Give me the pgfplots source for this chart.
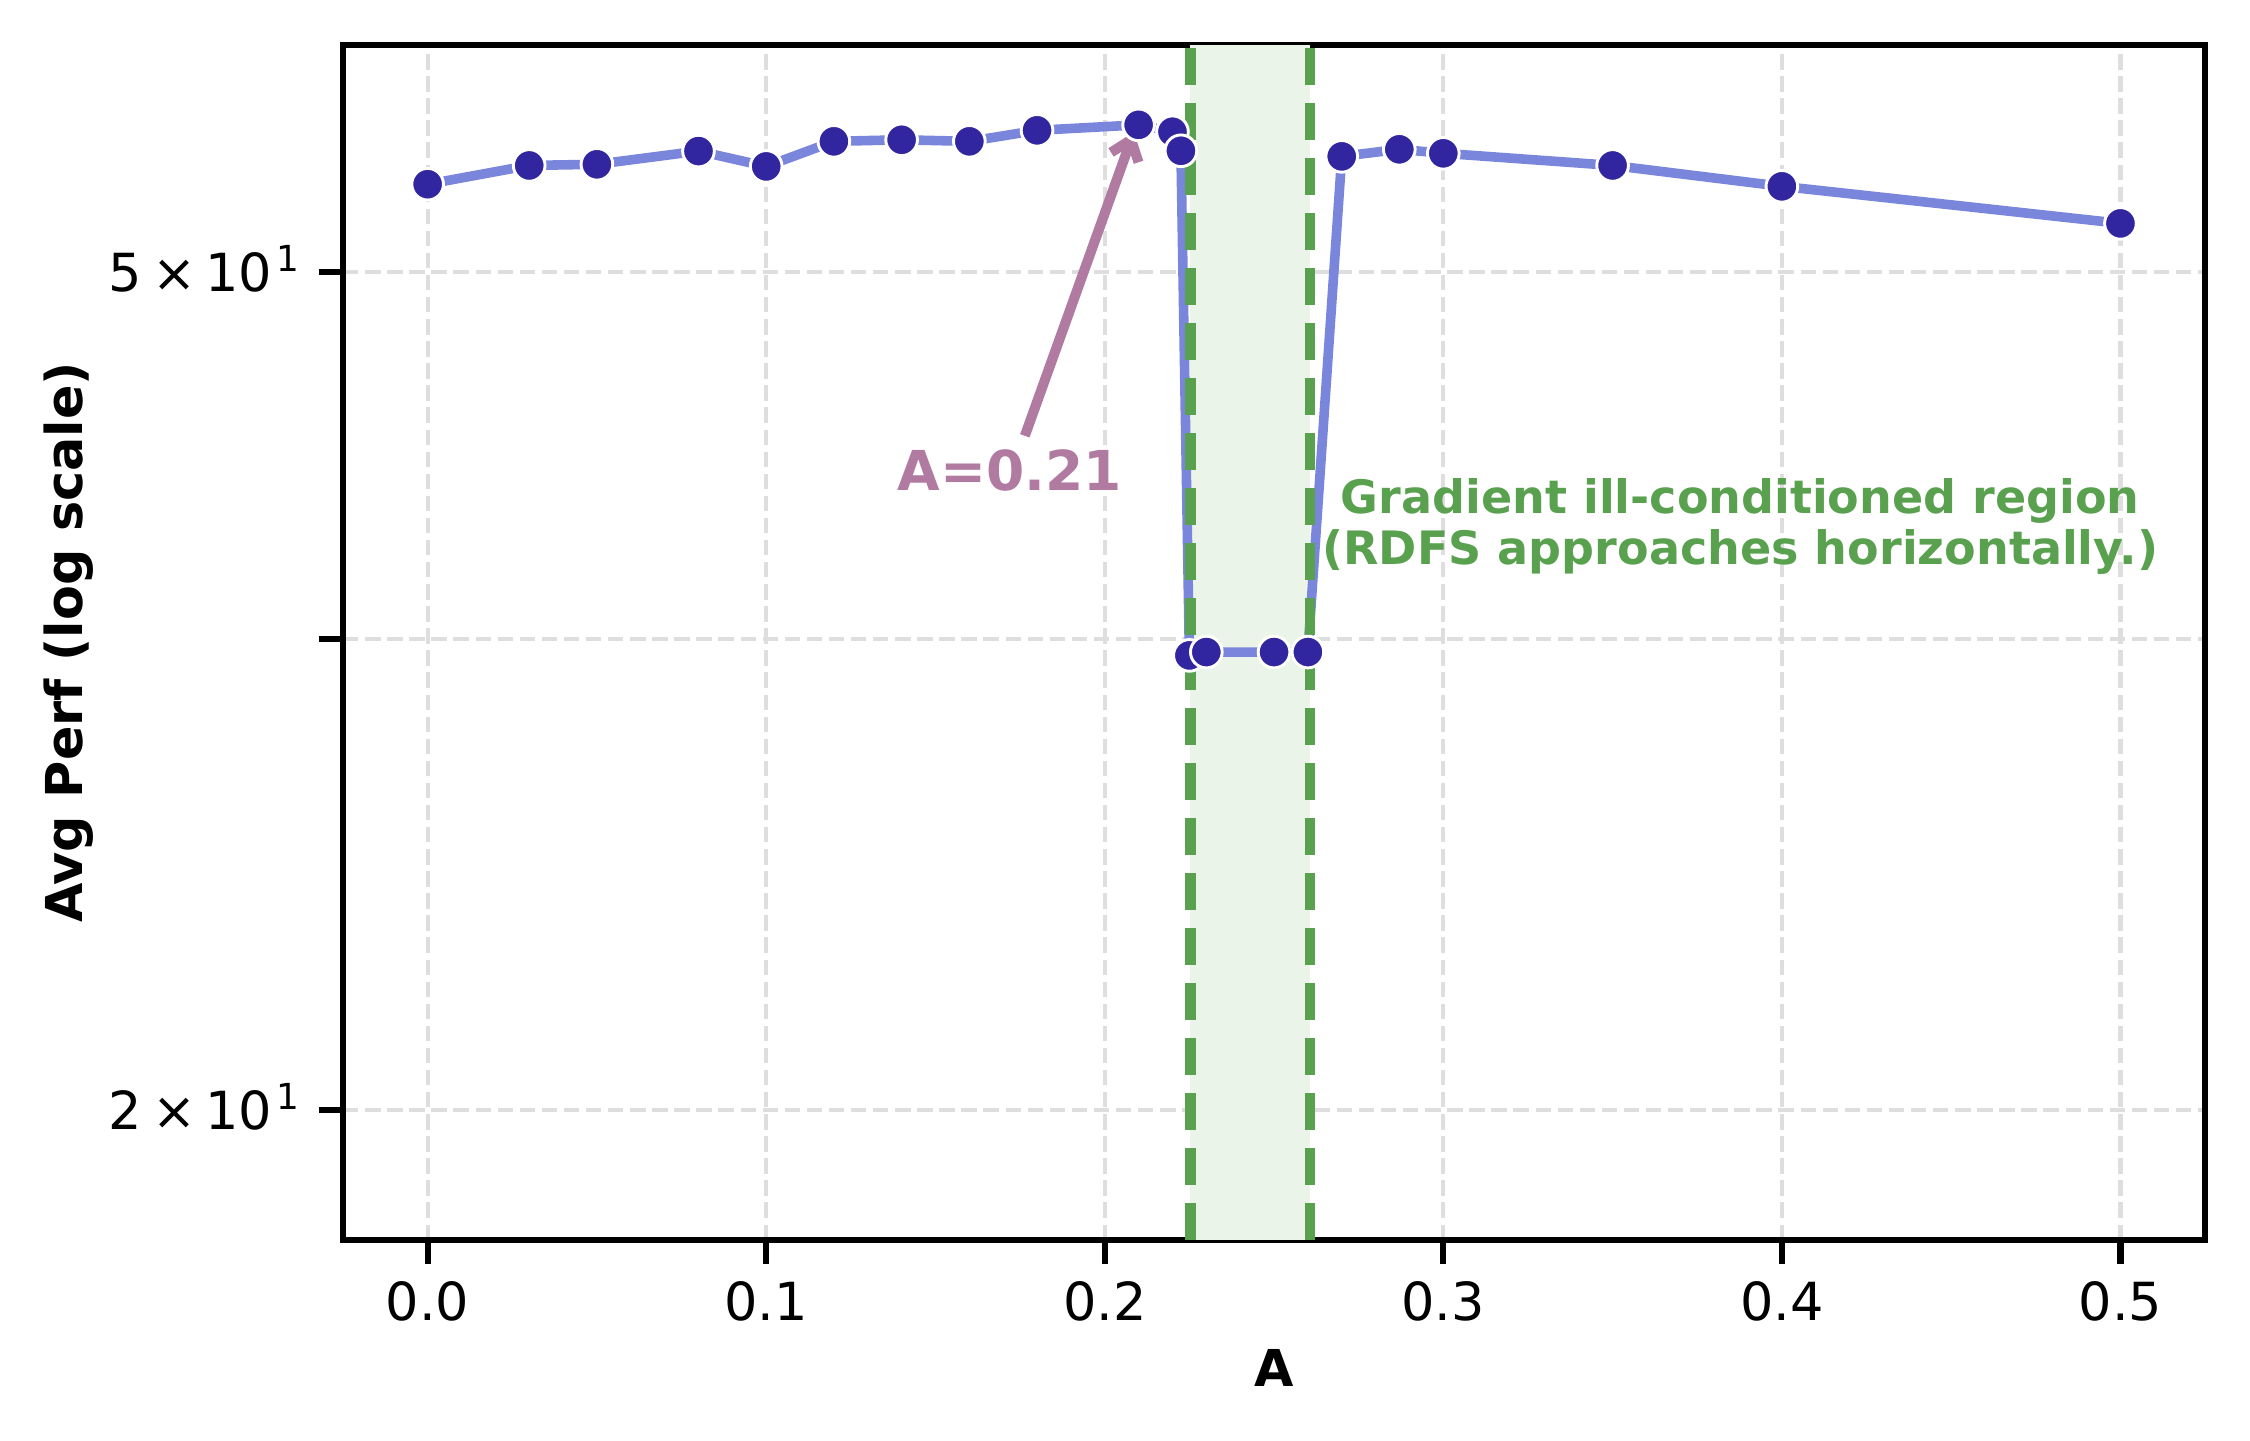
\documentclass[border=0pt]{standalone}
\usepackage{pgfplots}
\pgfplotsset{compat=1.18}
\usepackage{pgfplotstable}
\usepackage{fontspec}
\setmainfont{DejaVu Sans}
\usetikzlibrary{arrows.meta}
\definecolor{lineblue}{RGB}{121,134,220}
\definecolor{markblue}{RGB}{50,38,160}
\definecolor{regiongreen}{RGB}{89,161,79}
\definecolor{regionfill}{RGB}{234,244,232}
\definecolor{annotcol}{RGB}{176,122,161}
\definecolor{gridgray}{RGB}{222,222,222}
\newcommand{\sci}[1]{#1\hspace{2.6pt}×\hspace{2.2pt}10\hspace{1pt}\raisebox{4.63pt}{\fontsize{8.6}{9}\selectfont 1}}
\pgfplotstableread{
x y
0 55.04
0.03 56.18
0.05 56.25
0.08 57.07
0.10 56.12
0.12 57.68
0.14 57.78
0.16 57.68
0.18 58.38
0.21 58.73
0.22 58.29
0.2225 57.09
0.225 32.88
0.23 33.00
0.25 33.00
0.26 33.00
0.27 56.74
0.287 57.18
0.30 56.93
0.35 56.18
0.40 54.91
0.50 52.73
}\perfdata
\begin{document}
\begin{tikzpicture}
\path[use as bounding box] (-82.32pt,-48pt) rectangle (457.68pt,297.6pt);
\begin{axis}[
  scale only axis, width=446.9pt, height=286.8pt,
  xmin=-0.025, xmax=0.525,
  ymode=log, ymin=17.35, ymax=64.09,
  xtick={0,0.1,0.2,0.3,0.4,0.5},
  xticklabels={0.0,0.1,0.2,0.3,0.4,0.5},
  ytick={20,33.47,50},
  yticklabels={\sci{2},{},\sci{5}},
  xminorticks=false, yminorticks=false,
  tick pos=left, tick align=outside,
  major tick length=5.8pt,
  tick style={black, line width=1.5pt},
  axis line style={black, line width=1.44pt},
  grid=major,
  major grid style={draw=gridgray, line width=1pt, dash pattern=on 3.7pt off 1.6pt},
  ticklabel style={font=\fontsize{12.6}{15}\selectfont, inner sep=0pt},
  xticklabel style={anchor=north, yshift=-4.04pt},
  yticklabel style={anchor=base east, yshift=-4.59pt, xshift=-4.5pt},
  xlabel={A},
  ylabel={Avg Perf (log scale)},
  xlabel style={at={(axis description cs:0.5,-0.1230)}, anchor=base, inner sep=0pt, font=\bfseries\fontsize{12.2}{14}\selectfont},
  ylabel style={at={(axis description cs:-0.13963,0.5)}, anchor=base, inner sep=0pt, font=\bfseries\fontsize{12.2}{14}\selectfont},
]
\addplot[draw=none, fill=regionfill, forget plot] coordinates {(0.2253,17.35) (0.2606,17.35) (0.2606,64.09) (0.2253,64.09)} -- cycle;
\addplot[color=lineblue, line width=2.3pt, mark=none] table[x=x, y=y] {\perfdata};
\addplot[color=regiongreen, line width=2.6pt, dash pattern=on 8.9pt off 4.3pt] coordinates {(0.2253,17.35) (0.2253,64.09)};
\addplot[color=regiongreen, line width=2.6pt, dash pattern=on 8.9pt off 4.3pt] coordinates {(0.2606,17.35) (0.2606,64.09)};
\addplot[only marks, mark=*, mark size=3.8pt, mark options={fill=markblue, draw=white, line width=0.7pt}] table[x=x, y=y] {\perfdata};
\draw[annotcol, line width=2.4pt, -{Straight Barb[length=4.5pt, width=7pt]}] (axis cs:0.1764,41.8) -- (axis cs:0.2086,58.27);
\node[annotcol, font=\bfseries\fontsize{13.2}{15}\selectfont, anchor=base, inner sep=0pt] at (axis cs:0.172,39.37) {A=0.21};
\node[regiongreen, font=\bfseries\fontsize{11.05}{13}\selectfont, anchor=base, inner sep=0pt] at (axis cs:0.3877,38.40) {Gradient ill-conditioned region};
\node[regiongreen, font=\bfseries\fontsize{11.05}{13}\selectfont, anchor=base, inner sep=0pt] at (axis cs:0.3877,36.33) {(RDFS approaches horizontally.)};
\end{axis}
\end{tikzpicture}
\end{document}
